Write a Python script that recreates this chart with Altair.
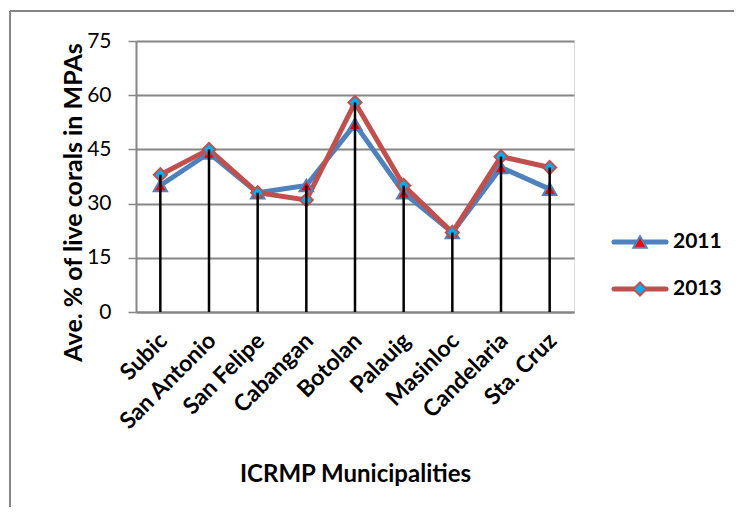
import altair as alt
import pandas as pd

municipalities = ["Subic", "San Antonio", "San Felipe", "Cabangan", "Botolan",
                  "Palauig", "Masinloc", "Candelaria", "Sta. Cruz"]
vals_2011 = [35, 44, 33, 35, 52, 33, 22, 40, 34]
vals_2013 = [38, 45, 33, 31, 58, 35, 22, 43, 40]
y_ticks = [0, 15, 30, 45, 60, 75]
series = ["2011", "2013"]

FONT = "Lato"
W, H = 438, 271

rows = []
for m, a, b in zip(municipalities, vals_2011, vals_2013):
    rows.append({"Municipality": m, "Year": "2011", "Value": a})
    rows.append({"Municipality": m, "Year": "2013", "Value": b})
df = pd.DataFrame(rows)
drop = pd.DataFrame({"Municipality": municipalities,
                     "Value": [max(a, b) for a, b in zip(vals_2011, vals_2013)]})

xenc = alt.X("Municipality:N", sort=municipalities,
             scale=alt.Scale(type="point", padding=0.5),
             axis=alt.Axis(title="ICRMP Municipalities", labelAngle=-45,
                           labelFont=FONT, labelFontWeight="bold", labelFontSize=23,
                           labelColor="black", labelAlign="right", labelBaseline="top",
                           labelPadding=17, labelOffset=-5,
                           titleFont=FONT, titleFontWeight="bold", titleFontSize=24,
                           titleColor="black", titleY=162, titleBaseline="middle",
                           ticks=False, domain=True, domainColor="#868686",
                           domainWidth=2, grid=False))
yscale = alt.Scale(domain=[0, 75])
yenc = alt.Y("Value:Q", scale=yscale,
             axis=alt.Axis(title="Ave. % of live corals in MPAs", values=y_ticks,
                           labelFont=FONT, labelFontSize=21, labelColor="black",
                           labelPadding=17,
                           titleFont=FONT, titleFontWeight="bold", titleFontSize=25,
                           titleColor="black", titleX=-55, titleY=161,
                           titleAlign="center", titleBaseline="alphabetic",
                           tickSize=8, tickColor="#868686", tickWidth=1.5,
                           domainColor="#868686", domainWidth=2,
                           grid=True, gridColor="#868686", gridWidth=2))

colors = alt.Scale(domain=series, range=["#4F81BD", "#C0504D"])

lines = alt.Chart(df).mark_line(strokeWidth=5).encode(
    x=xenc, y=yenc,
    color=alt.Color("Year:N", scale=colors, legend=None),
    order=alt.Order("Year:N"),
)

tri = alt.Chart(df[df.Year == "2011"]).mark_point(
    shape="triangle-up", filled=True, fill="#FF0000", stroke="#4F81BD",
    strokeWidth=2, size=180, opacity=1).encode(x=xenc, y=yenc)
dia = alt.Chart(df[df.Year == "2013"]).mark_point(
    shape="diamond", filled=True, fill="#00B0F0", stroke="#C0504D",
    strokeWidth=2, size=170, opacity=1).encode(x=xenc, y=yenc)

drops = alt.Chart(drop).mark_rule(color="black", strokeWidth=2.5).encode(
    x=xenc, y=yenc, y2=alt.datum(0),
)

one = pd.DataFrame({"k": [0]})
# outer chart border (top and left)
border_top = alt.Chart(one).mark_rule(color="#868686", strokeWidth=2).encode(
    x=alt.value(-126), x2=alt.value(620), y=alt.value(-30))
border_left = alt.Chart(one).mark_rule(color="#868686", strokeWidth=2).encode(
    x=alt.value(-126), y=alt.value(-30), y2=alt.value(480))

# manual legend
legend_layers = []
for yr, ly, shape, fill, stroke, col, sz in [
        ("2011", 201, "triangle-up", "#FF0000", "#4F81BD", "#4F81BD", 180),
        ("2013", 248, "diamond", "#00B0F0", "#C0504D", "#C0504D", 170)]:
    d = pd.DataFrame({"Year": [yr]})
    legend_layers.append(alt.Chart(d).mark_rule(
        strokeWidth=5, strokeCap="round", color=col).encode(
        x=alt.value(478), x2=alt.value(530), y=alt.value(ly)))
    legend_layers.append(alt.Chart(d).mark_point(
        shape=shape, filled=True, fill=fill, stroke=stroke, strokeWidth=2,
        size=sz, opacity=1).encode(x=alt.value(504), y=alt.value(ly)))
    legend_layers.append(alt.Chart(d).mark_text(
        align="left", baseline="middle", font=FONT, fontWeight="bold",
        fontSize=21, color="black").encode(
        x=alt.value(537), y=alt.value(ly), text="Year:N"))

chart = alt.layer(lines, tri, dia, drops, border_top, border_left,
                  *legend_layers).properties(
    width=W, height=H,
    autosize=alt.AutoSizeParams(type="none"),
    padding={"left": 128, "top": 33, "right": 160, "bottom": 195},
).configure_view(stroke=None).configure(background="white")

chart.save("out.html", embed_options={"renderer": "svg", "actions": False})
